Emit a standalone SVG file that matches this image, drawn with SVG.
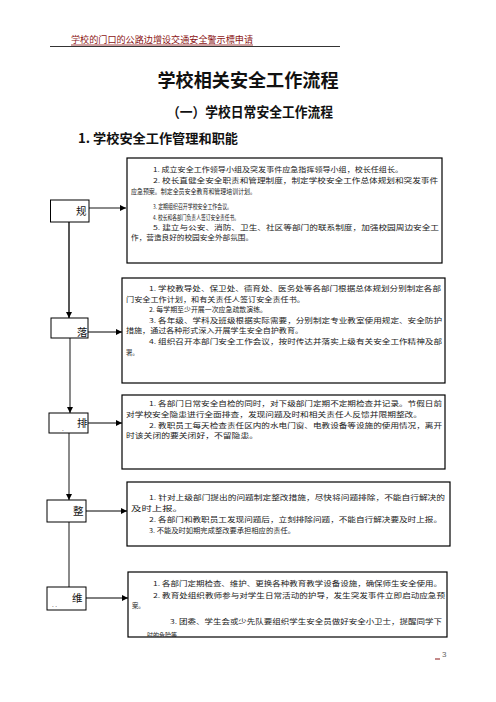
<svg xmlns="http://www.w3.org/2000/svg" width="496" height="702" viewBox="0 0 496 702">
<style>
.hdr{font-family:"Noto Sans CJK SC","Noto Sans",sans-serif;font-size:9px;fill:#8b1414}
.t1{font-family:"Noto Sans CJK SC","Noto Sans",sans-serif;font-weight:bold;fill:#111}
.bx{fill:#fff;stroke:#000;stroke-width:1.2}
.lb{fill:#fff;stroke:#000;stroke-width:1}
.lt{font-family:"Noto Sans CJK SC","Noto Sans",sans-serif;font-size:10.5px;fill:#111}
.tx{font-family:"Noto Sans CJK SC","Noto Sans",sans-serif;font-size:6.3px;fill:#222}
.gv{stroke:#8a8a8a;stroke-width:2;fill:none}
.bk{stroke:#000;stroke-width:1;fill:none}
</style>
<defs>
<marker id="ah" viewBox="0 0 10 10" refX="10" refY="5" markerWidth="6" markerHeight="6" markerUnits="userSpaceOnUse" orient="auto">
<path d="M0,0 L10,5 L0,10 z" fill="#000"/>
</marker>
<clipPath id="c5"><rect x="128" y="572" width="319" height="65"/></clipPath>
</defs>
<rect width="496" height="702" fill="#fff"/>

<g id="header">
<text class="hdr" x="71" y="43" textLength="182" lengthAdjust="spacingAndGlyphs">学校的门口的公路边增设交通安全警示標申请</text>
<line x1="71" y1="45" x2="253" y2="45" stroke="#8b1414" stroke-width="0.8"/>
<line x1="50" y1="46.5" x2="340" y2="46.5" stroke="#000" stroke-width="0.8"/>
</g>

<g id="titles">
<text class="t1" x="248" y="86.5" font-size="18" text-anchor="middle" textLength="181" lengthAdjust="spacingAndGlyphs">学校相关安全工作流程</text>
<text class="t1" x="167" y="116.5" font-size="13.5" textLength="166" lengthAdjust="spacingAndGlyphs">（一）学校日常安全工作流程</text>
<text class="t1" x="78" y="142.5" font-size="13" textLength="160" lengthAdjust="spacingAndGlyphs">1. 学校安全工作管理和职能</text>
</g>

<g id="connectors">
<line class="gv" x1="89" y1="208" x2="126" y2="208" marker-end="url(#ah)"/>
<line class="bk" x1="88" y1="332" x2="122" y2="332" marker-end="url(#ah)"/>
<line class="bk" x1="88" y1="423" x2="122" y2="423" marker-end="url(#ah)"/>
<line class="bk" x1="86" y1="511" x2="127" y2="511" marker-end="url(#ah)"/>
<line class="bk" x1="86" y1="598" x2="128" y2="598" marker-end="url(#ah)"/>
<line x1="69" y1="222" x2="69" y2="318" stroke="#444" stroke-width="1.8" marker-end="url(#ah)"/>
<line class="gv" x1="70" y1="338" x2="70" y2="413" marker-end="url(#ah)"/>
<line class="gv" x1="69" y1="433" x2="69" y2="500" marker-end="url(#ah)"/>
<line class="gv" x1="69" y1="522" x2="69" y2="587"/>
</g>

<g id="n-gui">
<rect class="lb" x="50.5" y="200" width="38.5" height="22"/>
<text class="lt" x="76" y="214.5">规</text>
</g>
<g id="n-luo">
<rect class="lb" x="51" y="318" width="37" height="20"/>
<text class="lt" x="77" y="336">落</text>
</g>
<g id="n-pai">
<rect class="lb" x="49" y="413" width="39" height="20"/>
<text class="lt" x="77" y="427">排</text>
<text class="tx" x="62" y="431" fill="#666">.</text>
</g>
<g id="n-zheng">
<rect class="lb" x="47" y="500" width="39" height="22"/>
<text class="lt" x="73" y="515">整</text>
</g>
<g id="n-wei">
<rect class="lb" x="47" y="587" width="39" height="23"/>
<text class="lt" x="72" y="602">维</text>
<text class="tx" x="52" y="607" fill="#666">. .</text>
</g>

<g id="box1">
<rect class="bx" x="127" y="158" width="315" height="105"/>
<text class="tx" x="153" y="172.3" textLength="250" lengthAdjust="spacingAndGlyphs">1. 成立安全工作领导小组及突发事件应急指挥领导小组，校长任组长。</text>
<text class="tx" x="153" y="183.3" textLength="285" lengthAdjust="spacingAndGlyphs">2. 校长直健全安全职责和管理制度，制定学校安全工作总体规划和突发事件</text>
<text class="tx" x="131" y="194" textLength="125" lengthAdjust="spacingAndGlyphs">应急预案。制定全员安全教育和管理培训计划。</text>
<text class="tx" x="153" y="209" textLength="79" lengthAdjust="spacingAndGlyphs">3. 定期组织召开学校安全工作会议。</text>
<text class="tx" x="153" y="220" textLength="86" lengthAdjust="spacingAndGlyphs">4. 校长和各部门负责人签订安全责任书。</text>
<text class="tx" x="153" y="229.5" textLength="286" lengthAdjust="spacingAndGlyphs">5. 建立与公安、消防、卫生、社区等部门的联系制度，加强校园周边安全工</text>
<text class="tx" x="131" y="239.5" textLength="122" lengthAdjust="spacingAndGlyphs">作，营造良好的校园安全外部氛围。</text>
</g>

<g id="box2">
<rect class="bx" x="122" y="278" width="323" height="105"/>
<text class="tx" x="149" y="291" textLength="292" lengthAdjust="spacingAndGlyphs">1. 学校教导处、保卫处、德育处、医务处等各部门根据总体规划分别制定各部</text>
<text class="tx" x="126" y="301.5" textLength="179" lengthAdjust="spacingAndGlyphs">门安全工作计划，和有关责任人签订安全责任书。</text>
<text class="tx" x="149" y="311.5" textLength="118" lengthAdjust="spacingAndGlyphs">2. 每学期至少开展一次应急疏散演练。</text>
<text class="tx" x="149" y="322.5" textLength="293" lengthAdjust="spacingAndGlyphs">3. 各年级、学科及班级根据实际需要，分别制定专业教室使用规定、安全防护</text>
<text class="tx" x="126" y="332.5" textLength="177" lengthAdjust="spacingAndGlyphs">措施，通过各种形式深入开展学生安全自护教育。</text>
<text class="tx" x="149" y="343.5" textLength="293" lengthAdjust="spacingAndGlyphs">4. 组织召开本部门安全工作会议，按时传达并落实上级有关安全工作精神及部</text>
<text class="tx" x="126" y="354.5">署。</text>
</g>

<g id="box3">
<rect class="bx" x="122" y="395" width="323" height="74"/>
<text class="tx" x="149" y="405.5" textLength="293" lengthAdjust="spacingAndGlyphs">1. 各部门日常安全自检的同时，对下级部门定期不定期检查并记录。节假日前</text>
<text class="tx" x="126" y="416.5" textLength="296" lengthAdjust="spacingAndGlyphs">对学校安全隐患进行全面排查，发现问题及时和相关责任人反馈并限期整改。</text>
<text class="tx" x="149" y="427.5" textLength="293" lengthAdjust="spacingAndGlyphs">2. 教职员工每天检查责任区内的水电门窗、电教设备等设施的使用情况，离开</text>
<text class="tx" x="126" y="438" textLength="132" lengthAdjust="spacingAndGlyphs">时该关闭的要关闭好，不留隐患。</text>
</g>

<g id="box4">
<rect class="bx" x="127" y="482" width="323" height="64"/>
<text class="tx" x="149" y="499.5" textLength="296" lengthAdjust="spacingAndGlyphs">1. 针对上级部门提出的问题制定整改措施，尽快将问题排除，不能自行解决的</text>
<text class="tx" x="131" y="510.5" textLength="52" lengthAdjust="spacingAndGlyphs">及时上报。</text>
<text class="tx" x="149" y="521.5" textLength="293" lengthAdjust="spacingAndGlyphs">2. 各部门和教职员工发现问题后，立刻排除问题，不能自行解决要及时上报。</text>
<text class="tx" x="149" y="532.5" textLength="146" lengthAdjust="spacingAndGlyphs">3. 不能及时如期完成整改要承担相应的责任。</text>
</g>

<g id="box5">
<rect class="bx" x="128" y="572" width="319" height="65"/>
<text class="tx" x="153" y="585.5" textLength="289" lengthAdjust="spacingAndGlyphs">1. 各部门定期检查、维护、更换各种教育教学设备设施，确保师生安全使用。</text>
<text class="tx" x="153" y="597.5" textLength="292" lengthAdjust="spacingAndGlyphs">2. 教育处组织教师参与对学生日常活动的护导，发生突发事件立即启动应急预</text>
<text class="tx" x="132" y="608">案。</text>
<text class="tx" x="170" y="624" textLength="272" lengthAdjust="spacingAndGlyphs">3. 团委、学生会或少先队要组织学生安全员做好安全小卫士，提醒同学下</text>
<text class="tx" x="147" y="638" clip-path="url(#c5)" textLength="30" lengthAdjust="spacingAndGlyphs">时的危险等</text>
</g>

<g id="footer">
<line x1="435" y1="659" x2="440" y2="659" stroke="#8b1414" stroke-width="1"/>
<text x="442" y="657" font-family="Liberation Sans,sans-serif" font-size="8" fill="#666">3</text>
</g>
</svg>
